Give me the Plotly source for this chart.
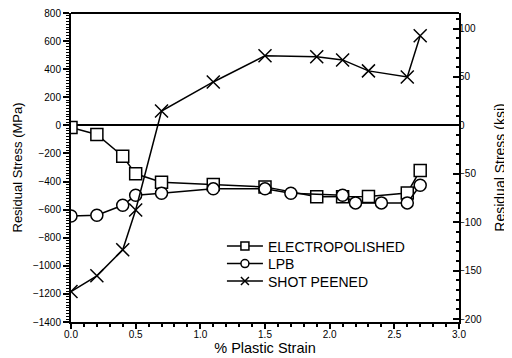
import plotly.graph_objects as go

MPA_PER_KSI = 6.895

ep_x = [0.0, 0.2, 0.4, 0.5, 0.7, 1.1, 1.5, 1.9, 2.1, 2.3, 2.6, 2.7]
ep_y = [-15, -65, -220, -345, -405, -421, -438, -509, -509, -507, -481, -321]

lpb_x = [0.0, 0.2, 0.4, 0.5, 0.7, 1.1, 1.5, 1.7, 2.1, 2.2, 2.4, 2.6, 2.7]
lpb_y = [-645, -640, -569, -498, -483, -452, -452, -483, -498, -552, -552, -552, -426]

sp_x = [0.0, 0.2, 0.4, 0.5, 0.7, 1.1, 1.5, 1.9, 2.1, 2.3, 2.6, 2.7]
sp_y = [-1183, -1071, -886, -602, 102, 309, 495, 488, 466, 388, 345, 638]

series_names = ["ELECTROPOLISHED", "LPB", "SHOT PEENED"]
y_range = [-1400, 800]
y_ticks = list(range(-1400, 801, 200))
ksi_ticks = [-200, -150, -100, -50, 0, 50, 100]
x_ticks = [0, 0.5, 1, 1.5, 2, 2.5, 3]
x_ticktext = ["0.0", "0.5", "1.0", "1.5", "2.0", "2.5", "3.0"]

font = "Liberation Sans, Arial, sans-serif"

fig = go.Figure()
line = dict(color="black", width=1.5)
symbols = ["square", "circle", "x-thin"]
data = [(ep_x, ep_y), (lpb_x, lpb_y), (sp_x, sp_y)]
for (xs, ys), sym, name in zip(data, symbols, series_names):
    fig.add_trace(go.Scatter(
        x=xs, y=ys, mode="lines+markers", name=name, showlegend=False,
        line=line,
        marker=dict(symbol=sym, size=13 if sym == "x-thin" else 12,
                    color="black" if sym == "x-thin" else "white",
                    line=dict(color="black", width=1.5))))

# legend entries (small symbols like the reference), one legend each
legend_ids = ["legend", "legend2", "legend3"]
for sym, name, lid in zip(symbols, series_names, legend_ids):
    fig.add_trace(go.Scatter(
        x=[None], y=[None], mode="lines+markers", name=name, legend=lid,
        line=line,
        marker=dict(symbol=sym, size=8,
                    color="black" if sym == "x-thin" else "white",
                    line=dict(color="black", width=1.5))))

# invisible trace for right axis
fig.add_trace(go.Scatter(x=[0], y=[0], yaxis="y2", mode="markers", marker=dict(opacity=0),
                         showlegend=False, hoverinfo="skip"))

leg_common = dict(x=0.389, xanchor="left", yanchor="middle", itemwidth=36,
                  font=dict(size=14, family=font), bgcolor="rgba(0,0,0,0)", borderwidth=0)

fig.update_layout(
    width=504, height=350,
    margin=dict(l=63, r=53, t=5, b=36, autoexpand=False),
    paper_bgcolor="white", plot_bgcolor="white",
    font=dict(family=font, color="black"),
    showlegend=True,
    legend=dict(y=0.2443, **leg_common),
    legend2=dict(y=0.1877, **leg_common),
    legend3=dict(y=0.1311, **leg_common),
    xaxis=dict(range=[0, 3], tickvals=x_ticks, ticktext=x_ticktext,
               showgrid=False, zeroline=False, showline=True, linecolor="black", linewidth=2,
               ticks="outside", ticklen=5, tickwidth=1.5, tickcolor="black",
               minor=dict(dtick=0.1, ticks="outside", ticklen=3, tickwidth=1.5, tickcolor="black"),
               tickfont=dict(size=10), automargin=False, ticklabelstandoff=-3,
               title=dict(text="% Plastic Strain", font=dict(size=14.5), standoff=2)),
    yaxis=dict(range=y_range, tickvals=y_ticks, showgrid=False,
               zeroline=True, zerolinecolor="black", zerolinewidth=1.5,
               showline=True, linecolor="black", linewidth=2,
               ticks="outside", ticklen=6, tickwidth=1.5, tickcolor="black",
               minor=dict(dtick=20, ticks="outside", ticklen=3, tickwidth=1, tickcolor="black"),
               tickfont=dict(size=10), automargin=False, ticklabeloverflow="allow",
               title=dict(text="Residual Stress (MPa)", font=dict(size=13), standoff=7)),
    yaxis2=dict(range=[y_range[0] / MPA_PER_KSI, y_range[1] / MPA_PER_KSI], overlaying="y",
                side="right", tickvals=ksi_ticks, showgrid=False, zeroline=False,
                showline=True, linecolor="black", linewidth=2,
                ticks="inside", ticklen=6, tickwidth=1.5, tickcolor="black",
                minor=dict(dtick=10, ticks="inside", ticklen=3, tickwidth=1.5, tickcolor="black"),
                tickfont=dict(size=10), automargin=False, ticklabeloverflow="allow",
                ticklabelstandoff=-4,
                title=dict(text="Residual Stress (ksi)", font=dict(size=14), standoff=14)),
    shapes=[dict(type="line", xref="paper", yref="paper", x0=0, x1=1, y0=1, y1=1,
                 line=dict(color="black", width=2))],
)

fig.write_html("out.html")
